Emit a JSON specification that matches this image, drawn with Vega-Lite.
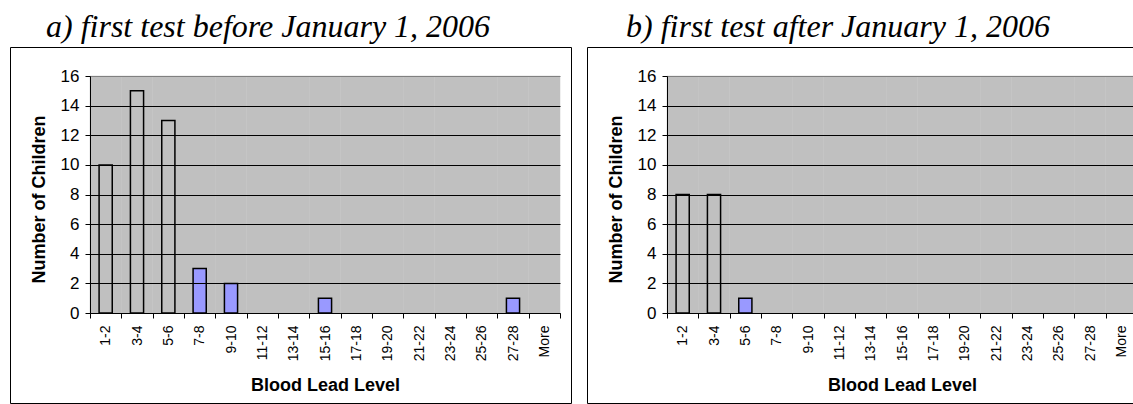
{
  "$schema": "https://vega.github.io/schema/vega-lite/v6.json",
  "padding": {"left": 2, "top": 10, "right": 0, "bottom": 0},
  "background": "white",
  "spacing": 16,
  "bounds": "flush",
  "datasets": {
    "a": [
      {"bin": "1-2", "count": 10, "highlight": "no"},
      {"bin": "3-4", "count": 15, "highlight": "no"},
      {"bin": "5-6", "count": 13, "highlight": "no"},
      {"bin": "7-8", "count": 3, "highlight": "yes"},
      {"bin": "9-10", "count": 2, "highlight": "yes"},
      {"bin": "11-12", "count": 0, "highlight": "yes"},
      {"bin": "13-14", "count": 0, "highlight": "yes"},
      {"bin": "15-16", "count": 1, "highlight": "yes"},
      {"bin": "17-18", "count": 0, "highlight": "yes"},
      {"bin": "19-20", "count": 0, "highlight": "yes"},
      {"bin": "21-22", "count": 0, "highlight": "yes"},
      {"bin": "23-24", "count": 0, "highlight": "yes"},
      {"bin": "25-26", "count": 0, "highlight": "yes"},
      {"bin": "27-28", "count": 1, "highlight": "yes"},
      {"bin": "More", "count": 0, "highlight": "yes"}
    ],
    "b": [
      {"bin": "1-2", "count": 8, "highlight": "no"},
      {"bin": "3-4", "count": 8, "highlight": "no"},
      {"bin": "5-6", "count": 1, "highlight": "yes"},
      {"bin": "7-8", "count": 0, "highlight": "yes"},
      {"bin": "9-10", "count": 0, "highlight": "yes"},
      {"bin": "11-12", "count": 0, "highlight": "yes"},
      {"bin": "13-14", "count": 0, "highlight": "yes"},
      {"bin": "15-16", "count": 0, "highlight": "yes"},
      {"bin": "17-18", "count": 0, "highlight": "yes"},
      {"bin": "19-20", "count": 0, "highlight": "yes"},
      {"bin": "21-22", "count": 0, "highlight": "yes"},
      {"bin": "23-24", "count": 0, "highlight": "yes"},
      {"bin": "25-26", "count": 0, "highlight": "yes"},
      {"bin": "27-28", "count": 0, "highlight": "yes"},
      {"bin": "More", "count": 0, "highlight": "yes"}
    ]
  },
  "config": {
    "view": {"stroke": "black", "strokeWidth": 1, "fill": "white"},
    "font": "Liberation Sans"
  },
  "hconcat": [
    {
      "width": 561,
      "height": 356,
      "title": {"text": "a) first test before January 1, 2006", "font": "Liberation Serif", "fontStyle": "italic", "fontWeight": "normal", "fontSize": 32, "color": "black", "anchor": "start", "frame": "group", "dx": 36, "offset": -22, "baseline": "alphabetic"},
      "data": {"name": "a"},
      "layer": [
        {
          "mark": {"type": "bar", "fill": "#C0C0C0", "stroke": "#C0C0C0", "strokeWidth": 0.5, "width": {"band": 1}, "clip": true},
          "encoding": {
            "x": {"field": "bin", "type": "ordinal", "title": "Blood Lead Level",
              "scale": {"domain": ["1-2","3-4","5-6","7-8","9-10","11-12","13-14","15-16","17-18","19-20","21-22","23-24","25-26","27-28","More"], "range": [80, 550], "paddingInner": 0, "paddingOuter": 0},
              "axis": {"orient": "bottom", "offset": -90, "tickBand": "extent", "labelAngle": 270, "labelAlign": "right", "labelBaseline": "middle", "labelFontSize": 14, "labelPadding": 7, "labelColor": "black", "labelOverlap": false, "tickSize": 5, "tickColor": "black", "domainColor": "black", "titleFontSize": 18, "titleFontWeight": "bold", "titleColor": "black", "titleBaseline": "alphabetic", "titleY": 77, "grid": false, "zindex": 1}},
            "y": {"datum": 16, "type": "quantitative", "title": "Number of Children",
              "scale": {"domain": [0, 16], "range": [266, 29], "nice": false, "zero": true},
              "axis": {"orient": "left", "offset": -80, "values": [0,2,4,6,8,10,12,14,16], "grid": true, "gridColor": {"condition": {"test": "datum.value === 16", "value": "#808080"}, "value": "black"}, "gridWidth": 1, "domainColor": "black", "tickColor": "black", "tickSize": 5, "labelFontSize": 17, "labelColor": "black", "labelPadding": 6, "titleFontSize": 18, "titleFontWeight": "bold", "titleColor": "black", "titleX": -51, "titleY": 152, "titleBaseline": "middle", "zindex": 1}}
          }
        },
        {
          "transform": [{"filter": "datum.count > 0"}],
          "mark": {"type": "bar", "stroke": "black", "strokeWidth": 1.5, "width": {"band": 0.42}},
          "encoding": {
            "x": {"field": "bin", "type": "ordinal", "title": "Blood Lead Level"},
            "y": {"field": "count", "type": "quantitative", "title": "Number of Children"},
            "fill": {"field": "highlight", "type": "nominal", "scale": {"domain": ["no", "yes"], "range": ["transparent", "#9999FF"]}, "legend": null}
          }
        }
      ]
    },
    {
      "width": 548,
      "height": 356,
      "title": {"text": "b) first test after January 1, 2006", "font": "Liberation Serif", "fontStyle": "italic", "fontWeight": "normal", "fontSize": 32, "color": "black", "anchor": "start", "frame": "group", "dx": 39, "offset": -22, "baseline": "alphabetic"},
      "data": {"name": "b"},
      "layer": [
        {
          "mark": {"type": "bar", "fill": "#C0C0C0", "stroke": "#C0C0C0", "strokeWidth": 0.5, "width": {"band": 1}, "clip": true},
          "encoding": {
            "x": {"field": "bin", "type": "ordinal", "title": "Blood Lead Level",
              "scale": {"domain": ["1-2","3-4","5-6","7-8","9-10","11-12","13-14","15-16","17-18","19-20","21-22","23-24","25-26","27-28","More"], "range": [80, 550], "paddingInner": 0, "paddingOuter": 0},
              "axis": {"orient": "bottom", "offset": -90, "tickBand": "extent", "labelAngle": 270, "labelAlign": "right", "labelBaseline": "middle", "labelFontSize": 14, "labelPadding": 7, "labelColor": "black", "labelOverlap": false, "tickSize": 5, "tickColor": "black", "domainColor": "black", "titleFontSize": 18, "titleFontWeight": "bold", "titleColor": "black", "titleBaseline": "alphabetic", "titleY": 77, "grid": false, "zindex": 1}},
            "y": {"datum": 16, "type": "quantitative", "title": "Number of Children",
              "scale": {"domain": [0, 16], "range": [266, 29], "nice": false, "zero": true},
              "axis": {"orient": "left", "offset": -80, "values": [0,2,4,6,8,10,12,14,16], "grid": true, "gridColor": {"condition": {"test": "datum.value === 16", "value": "#808080"}, "value": "black"}, "gridWidth": 1, "domainColor": "black", "tickColor": "black", "tickSize": 5, "labelFontSize": 17, "labelColor": "black", "labelPadding": 6, "titleFontSize": 18, "titleFontWeight": "bold", "titleColor": "black", "titleX": -51, "titleY": 152, "titleBaseline": "middle", "zindex": 1}}
          }
        },
        {
          "transform": [{"filter": "datum.count > 0"}],
          "mark": {"type": "bar", "stroke": "black", "strokeWidth": 1.5, "width": {"band": 0.42}},
          "encoding": {
            "x": {"field": "bin", "type": "ordinal", "title": "Blood Lead Level"},
            "y": {"field": "count", "type": "quantitative", "title": "Number of Children"},
            "fill": {"field": "highlight", "type": "nominal", "scale": {"domain": ["no", "yes"], "range": ["transparent", "#9999FF"]}, "legend": null}
          }
        }
      ]
    }
  ]
}
